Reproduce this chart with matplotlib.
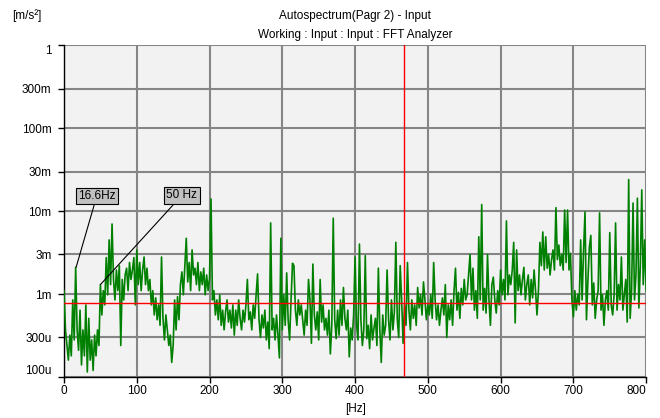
import numpy as np
import matplotlib
matplotlib.use('Agg')
import matplotlib.pyplot as plt
from matplotlib.ticker import FixedLocator, NullLocator

plt.rcParams['font.family'] = ['Liberation Sans', 'DejaVu Sans']

# autospectrum, 2 Hz steps, [m/s^2]
band_000 = [1.1e-3, 3.7e-4, 2.4e-4, 1.6e-4, 3.2e-4, 1.8e-4, 8.5e-4, 2.8e-4, 2.1e-3, 3.7e-4,
            2.1e-4, 6.4e-4, 1.4e-4, 3.7e-4, 1.8e-4, 7.4e-4, 1.15e-4, 5.1e-4, 1.6e-4, 2.8e-4,
            1.2e-4, 3.2e-4, 1.8e-4, 3.7e-4, 2.4e-4, 1.3e-3, 5.6e-4, 1.1e-3, 7.4e-4, 2.75e-3,
            9.8e-4, 4.5e-3, 1.3e-3, 7.0e-3, 1.5e-3, 8.5e-4, 1.95e-3, 1.1e-3, 2.2e-3, 2.4e-4,
            1.5e-3, 8.5e-4, 1.7e-3, 2.05e-3, 1.1e-3, 2.4e-3, 1.5e-3, 1.95e-3, 2.75e-3, 7.4e-4]
band_100 = [3.4e-3, 1.3e-3, 2.4e-3, 1.1e-3, 1.95e-3, 2.8e-3, 1.3e-3, 2.05e-3, 1.1e-3, 1.5e-3,
            7.4e-4, 1.1e-3, 5.6e-4, 9.0e-4, 4.9e-4, 7.4e-4, 4.2e-4, 2.8e-3, 5.1e-4, 2.8e-4,
            5.6e-4, 3.7e-4, 2.4e-4, 3.2e-4, 1.5e-4, 2.4e-4, 8.5e-4, 3.7e-4, 9.3e-4, 4.9e-4,
            1.3e-3, 1.85e-3, 9.8e-4, 2.2e-3, 4.7e-3, 1.4e-3, 2.4e-3, 1.1e-3, 3.4e-3, 1.7e-3,
            2.05e-3, 1.3e-3, 2.4e-3, 1.1e-3, 1.85e-3, 1.3e-3, 2.05e-3, 9.8e-4, 1.7e-3, 1.1e-3]
band_200 = [1.55e-3, 1.4e-2, 8.5e-4, 1.1e-3, 5.6e-4, 8.5e-4, 4.9e-4, 9.8e-4, 4.2e-4, 6.4e-4,
            3.7e-4, 6.1e-4, 8.5e-4, 4.6e-4, 6.4e-4, 3.9e-4, 7.4e-4, 3.2e-4, 6.4e-4, 4.2e-4,
            8.5e-4, 5.1e-4, 3.7e-4, 6.4e-4, 4.6e-4, 7.4e-4, 1.5e-3, 4.9e-4, 6.1e-4, 3.7e-4,
            7.4e-4, 5.1e-4, 9.8e-4, 1.75e-3, 4.9e-4, 3.0e-4, 5.6e-4, 3.9e-4, 6.4e-4, 2.8e-4,
            4.6e-4, 2.2e-4, 7.2e-3, 3.7e-4, 5.1e-4, 2.8e-4, 5.6e-4, 3.2e-4, 1.7e-4, 4.7e-3]
band_300 = [3.7e-4, 9.8e-4, 4.2e-4, 1.8e-3, 4.9e-4, 2.8e-4, 8.5e-4, 2.35e-3, 2.2e-3, 6.4e-4,
            4.2e-4, 8.5e-4, 5.6e-4, 7.4e-4, 4.9e-4, 3.2e-4, 6.4e-4, 4.2e-4, 1.5e-3, 8.5e-4,
            2.55e-4, 2.3e-3, 5.6e-4, 3.7e-4, 6.1e-4, 2.8e-4, 1.5e-3, 4.6e-4, 7.4e-4, 3.7e-4,
            5.1e-4, 3.2e-4, 6.4e-4, 1.9e-4, 4.2e-4, 8.2e-3, 4.9e-4, 2.9e-4, 6.4e-4, 3.2e-4,
            8.5e-4, 4.2e-4, 1.2e-3, 5.1e-4, 3.7e-4, 6.4e-4, 1.75e-4, 3.9e-4, 2.8e-4, 5.6e-4]
band_400 = [2.8e-3, 4.2e-4, 2.8e-4, 4.0e-3, 4.9e-4, 2.4e-4, 3.7e-4, 2.9e-3, 2.9e-4, 4.2e-4,
            2.2e-4, 5.6e-4, 2.8e-4, 3.9e-4, 5.1e-4, 2.4e-4, 2.05e-3, 3.7e-4, 1.5e-4, 5.6e-4,
            3.2e-4, 4.2e-4, 1.95e-3, 4.9e-4, 2.8e-4, 8.5e-4, 3.7e-4, 6.1e-4, 4.2e-3, 4.9e-4,
            3.0e-4, 2.2e-3, 8.5e-4, 2.55e-4, 7.4e-4, 4.2e-4, 2.4e-3, 6.4e-4, 3.7e-4, 8.5e-4,
            5.1e-4, 7.4e-4, 4.2e-4, 1.2e-3, 6.8e-4, 9.8e-4, 5.6e-4, 1.4e-3, 8.5e-4, 4.9e-4]
band_500 = [7.4e-4, 5.6e-4, 9.8e-4, 5.1e-4, 2.4e-3, 8.5e-4, 4.9e-4, 7.4e-4, 4.2e-4, 6.4e-4,
            9.0e-4, 5.6e-4, 1.3e-3, 3.0e-4, 7.4e-4, 4.9e-4, 8.5e-4, 4.2e-4, 1.1e-3, 2.05e-3,
            6.4e-4, 1.05e-3, 5.1e-4, 1.17e-3, 7.4e-4, 1.5e-3, 8.5e-4, 9.8e-4, 1.7e-3, 3.0e-3,
            8.5e-4, 2.05e-3, 6.4e-4, 1.1e-3, 5.1e-4, 4.9e-3, 8.5e-4, 1.2e-2, 6.4e-4, 1.17e-3,
            5.9e-4, 3.0e-3, 8.5e-4, 4.2e-4, 1.3e-3, 1.6e-3, 8.5e-4, 5.9e-4, 1.1e-3, 7.4e-4]
band_600 = [1.95e-3, 9.8e-4, 1.5e-3, 8.5e-4, 7.6e-3, 9.8e-4, 1.7e-3, 1.3e-3, 1.95e-3, 4.2e-3,
            4.5e-4, 3.4e-3, 1.1e-3, 1.7e-3, 9.8e-4, 1.5e-3, 2.1e-3, 8.5e-4, 1.3e-3, 1.7e-3,
            7.4e-4, 1.5e-3, 9.0e-4, 1.95e-3, 1.1e-3, 5.6e-4, 1.1e-3, 4.2e-3, 2.2e-3, 5.6e-3,
            1.95e-3, 4.9e-3, 2.05e-3, 3.0e-3, 1.7e-3, 2.6e-3, 3.4e-3, 1.95e-3, 1.1e-2, 2.6e-3,
            3.9e-3, 2.2e-3, 3.0e-3, 1.95e-3, 1.03e-2, 2.4e-3, 1.03e-2, 1.95e-3, 3.1e-3, 8.5e-4]
band_700 = [5.3e-4, 1.1e-3, 6.4e-4, 9.8e-4, 7.4e-4, 4.5e-3, 8.5e-4, 3.4e-3, 9.8e-3, 4.9e-4,
            1.5e-3, 3.7e-3, 5.1e-3, 7.4e-4, 1.36e-3, 5.1e-4, 8.5e-4, 1.1e-3, 9.5e-3, 6.4e-4,
            9.8e-4, 4.2e-4, 8.5e-4, 1.1e-3, 6.4e-4, 5.5e-3, 7.4e-4, 5.6e-4, 9.8e-4, 7.2e-3,
            6.4e-4, 1.3e-3, 8.5e-4, 2.8e-3, 6.4e-4, 9.8e-4, 1.5e-3, 4.6e-4, 2.4e-2, 5.1e-4,
            1.1e-3, 1.25e-2, 8.5e-4, 1.7e-3, 1.43e-2, 6.8e-4, 2.2e-3, 1.8e-2, 1.3e-3, 4.5e-3,
            1.1e-3]

spectrum = np.array(band_000 + band_100 + band_200 + band_300 +
                    band_400 + band_500 + band_600 + band_700)
freq = np.arange(0, 801, 2)

ytick_vals = [1, 0.3, 0.1, 0.03, 0.01, 3e-3, 1e-3, 3e-4, 1e-4]
ytick_labels = ['1', '300m', '100m', '30m', '10m', '3m', '1m', '300u', '100u']
xtick_vals = [0, 100, 200, 300, 400, 500, 600, 700, 800]

ref_level = 7.9e-4      # horizontal reference line
cursor_freq = 467.5     # vertical cursor
peak_labels = [('16.6Hz', 16.6, 2.1e-3, 45, 1.52e-2),
               ('50 Hz', 50, 1.3e-3, 162, 1.55e-2)]

fig = plt.figure(figsize=(6.6, 4.18), dpi=100)
ax = fig.add_axes([0.097, 0.098, 0.882, 0.794])
ax.set_facecolor('#f2f2f2')

ax.plot(freq, spectrum, color='#008000', lw=1.2, zorder=3)
ax.axhline(ref_level, color='red', lw=1.0, zorder=4)
ax.axvline(cursor_freq, color='red', lw=1.0, zorder=4)

ax.set_yscale('log')
ax.set_ylim(1e-4, 1)
ax.set_xlim(0, 800)
ax.yaxis.set_major_locator(FixedLocator(ytick_vals))
ax.yaxis.set_minor_locator(NullLocator())
ax.set_yticklabels(ytick_labels)
ax.set_xticks(xtick_vals)
ax.grid(True, color='#858585', lw=1.5, zorder=1)
ax.set_axisbelow(True)

for s in ['top', 'right']:
    ax.spines[s].set_visible(False)
for s in ['left', 'bottom']:
    ax.spines[s].set_color('black')
    ax.spines[s].set_linewidth(1.0)
ax.tick_params(direction='out', length=4, width=1, labelsize=8.5, colors='black')
ax.tick_params(axis='y', pad=5)
ax.tick_params(axis='x', pad=2)

# end labels are kept inside the axis range
yl = ax.get_yticklabels()
yl[0].set_va('top')
yl[-1].set_va('bottom')
ax.get_xticklabels()[-1].set_ha('right')

for txt, fx, fy, tx, ty in peak_labels:
    ax.annotate(txt, xy=(fx, fy), xytext=(tx, ty), fontsize=8.5,
                ha='center', va='center', zorder=6,
                bbox=dict(boxstyle='square,pad=0.2', fc='#c0c0c0', ec='black', lw=0.8),
                arrowprops=dict(arrowstyle='-', color='black', lw=0.8,
                                shrinkA=0, shrinkB=0))

fig.text(0.538, 0.962, 'Autospectrum(Pagr 2) - Input', ha='center', va='center', fontsize=8.5)
fig.text(0.538, 0.917, 'Working : Input : Input : FFT Analyzer', ha='center', va='center', fontsize=8.5)
fig.text(0.018, 0.962, '[m/s²]', ha='left', va='center', fontsize=8.5)
fig.text(0.538, 0.022, '[Hz]', ha='center', va='center', fontsize=8.5)

fig.savefig('out.png', dpi=100)
